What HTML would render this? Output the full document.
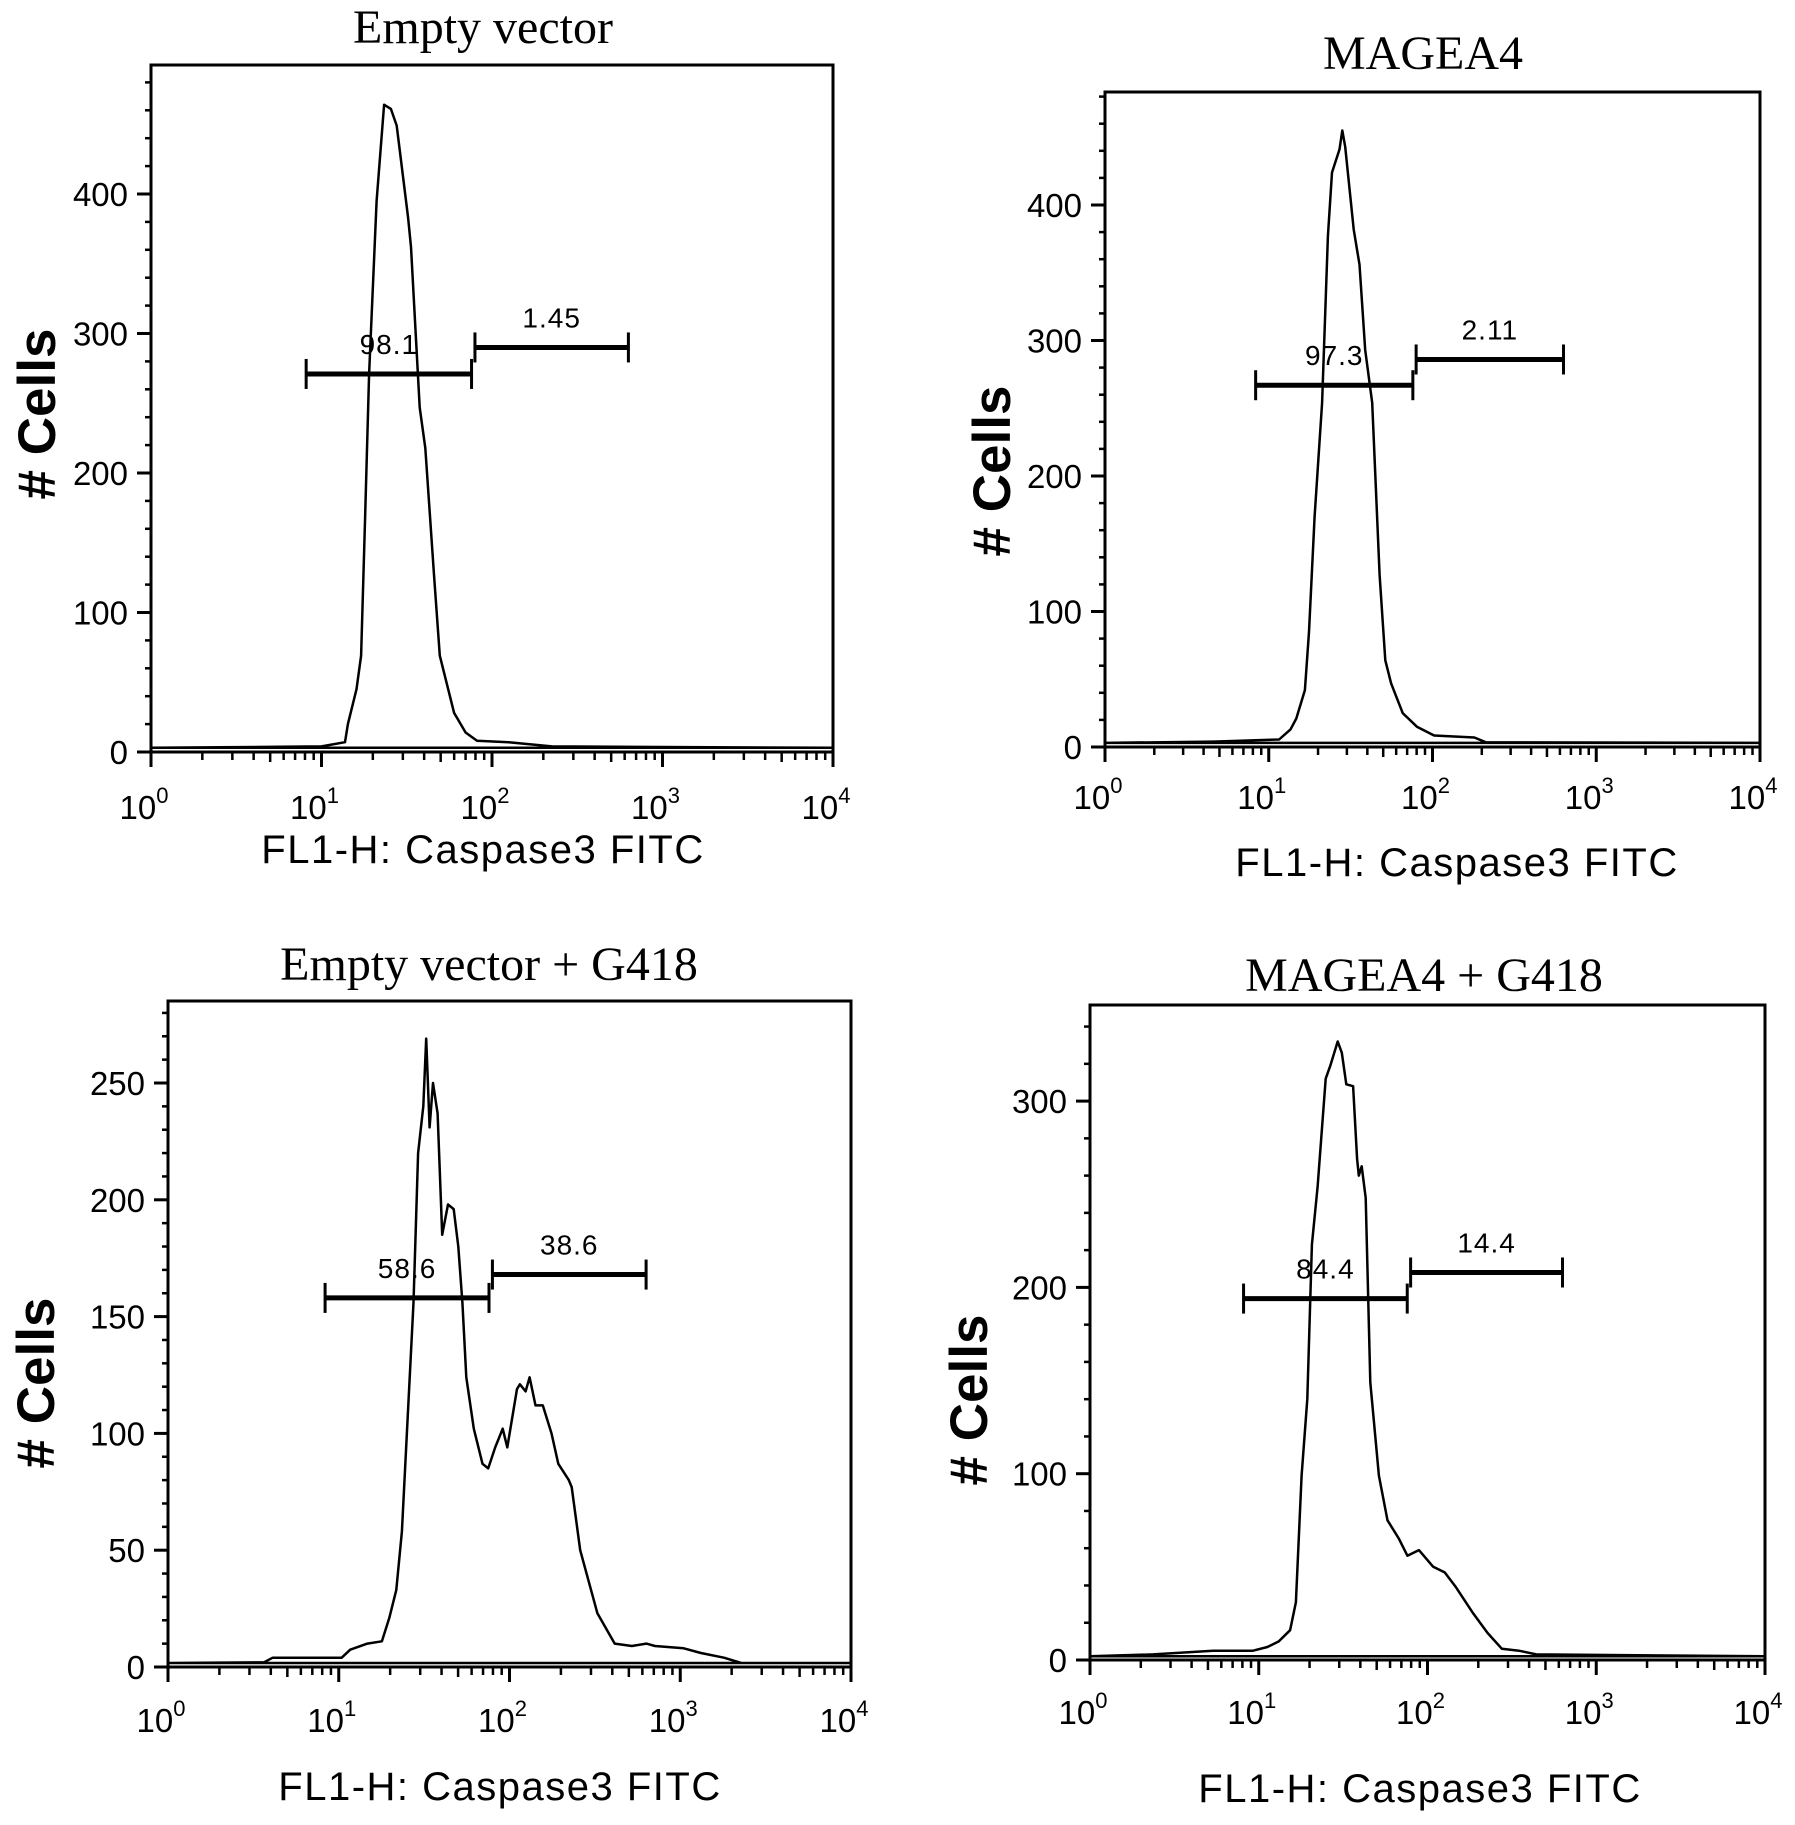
<!DOCTYPE html>
<html><head><meta charset="utf-8">
<style>
html,body{margin:0;padding:0;background:#fff;}
svg{display:block;}
text{font-family:"Liberation Sans",sans-serif;fill:#000;}
.title{font-family:"Liberation Serif",serif;font-size:48px;}
.tick{font-size:33px;}
.sup{font-size:22px;}
.xlab{font-size:40px;letter-spacing:1.5px;}
.ylab{font-size:53px;font-weight:bold;}
.gl{font-size:28px;letter-spacing:1px;}
</style></head>
<body>
<svg id="fig" xmlns="http://www.w3.org/2000/svg" width="1795" height="1825" viewBox="0 0 1795 1825"></svg>
<script>
// ---- data (log10 fluorescence, cell counts) ----
const p1Log=[0,1.0,1.138,1.155,1.205,1.232,1.256,1.279,1.323,1.367,1.407,1.441,1.508,1.525,1.576,1.609,1.66,1.694,1.778,1.845,1.912,2.098,2.35,4];
const p1Count=[3,4,7,20,45,69,168,271,395,464,461,449,383,362,247,218,127,69,28,14,8,7,4,3];
const p2Log=[0,0.66,1.063,1.133,1.168,1.221,1.246,1.28,1.326,1.361,1.386,1.432,1.449,1.467,1.519,1.554,1.589,1.632,1.677,1.712,1.747,1.818,1.905,2.01,2.256,2.326,4];
const p2Count=[3,4,5.5,13,21,42,85,170,254,377,424,441,455,443,382,356,293,254,127,64,47,25,15,8.5,7,3.5,3];
const p3Log=[0,0.562,0.613,1.017,1.067,1.168,1.253,1.296,1.337,1.37,1.404,1.438,1.465,1.495,1.512,1.532,1.552,1.579,1.606,1.64,1.673,1.7,1.724,1.747,1.791,1.842,1.875,1.916,1.96,1.987,2.044,2.061,2.094,2.118,2.152,2.195,2.246,2.286,2.347,2.364,2.414,2.515,2.616,2.717,2.801,2.852,3.02,3.121,3.256,3.357,4];
const p3Count=[1.7,2,4,4,7.4,10,11,21,33,58,107,156,220,240,269,231,250,237,185,198,196,180,156,124,102,87,85,94,102,94,119,121,118,124,112,112,100,87,80,77,50,23,10,9,10,9,8,6,4,1.7,1.7];
const p4Log=[0,0.373,0.559,0.729,0.966,1.051,1.119,1.186,1.22,1.254,1.288,1.315,1.349,1.397,1.424,1.468,1.492,1.519,1.559,1.583,1.593,1.61,1.634,1.661,1.712,1.763,1.831,1.881,1.949,2.034,2.102,2.169,2.271,2.356,2.441,2.542,2.644,4];
const p4Count=[2,3,4,5,5,7,10,16,31,99,140,223,254,312,319,332,326,309,308,269,260,265,248,149,99,75,65,56,59,50,47,39,25,14.5,6,5,3,2];
const titles=["Empty vector","MAGEA4","Empty vector + G418","MAGEA4 + G418"];
const gateLeftLabels=["98.1","97.3","58.6","84.4"];
const gateRightLabels=["1.45","2.11","38.6","14.4"];
const gateLeftLog=[[0.91,1.88],[0.92,1.88],[0.92,1.88],[0.91,1.88]];
const gateRightLog=[[1.90,2.80],[1.90,2.80],[1.90,2.80],[1.90,2.80]];
const gateLeftY=[271,267,158,194];
const gateRightY=[290,286,168,208];
const yMajor1=[0,100,200,300,400];
const yMajor3=[0,50,100,150,200,250];
const yMajor4=[0,100,200,300];
const xDecades=[0,1,2,3,4];

// ---- layout (pixels) ----
const layouts=[
 {id:"empty-vector",L:151,T:65,R:833,Z:752,perUnit:1.395,yMax:490,minor:20,major:yMajor1,logV:p1Log,cnt:p1Count,tx:483,ty:43,lx:37,ly:414,xl:483,xly:863,tly:819},
 {id:"magea4",L:1105,T:92,R:1760,Z:747,perUnit:1.355,yMax:480,minor:20,major:yMajor1,logV:p2Log,cnt:p2Count,tx:1423,ty:69,lx:992,ly:471,xl:1457,xly:876,tly:809},
 {id:"empty-vector-g418",L:168,T:1001,R:851,Z:1667,perUnit:2.336,yMax:280,minor:10,major:yMajor3,logV:p3Log,cnt:p3Count,tx:489,ty:980,lx:36,ly:1383,xl:500,xly:1800,tly:1732},
 {id:"magea4-g418",L:1090,T:1005,R:1765,Z:1660,perUnit:1.863,yMax:350,minor:20,major:yMajor4,logV:p4Log,cnt:p4Count,tx:1424,ty:991,lx:969,ly:1400,xl:1420,xly:1802,tly:1724}
];
const NS="http://www.w3.org/2000/svg";
const svg=document.getElementById("fig");
function mk(tag,attrs,parent){const e=document.createElementNS(NS,tag);for(const k in attrs)e.setAttribute(k,attrs[k]);(parent||svg).appendChild(e);return e;}

layouts.forEach((p,i)=>{
 const g=mk("g",{});
 
 
 const xs=v=>p.L+(p.R-p.L)*v/4;
 const ys=c=>p.Z-c*p.perUnit;
 const t=mk("text",{x:p.tx,y:p.ty,"text-anchor":"middle",class:"title"},g);t.textContent=titles[i];
 
 
 const fr=mk("rect",{x:p.L,y:p.T,width:p.R-p.L,height:p.Z-p.T,fill:"none",stroke:"#000","stroke-width":3},g);
 
 
 for(let v=0;v<=p.yMax;v+=p.minor){
  const isMaj=p.major.indexOf(v)>=0;
  const tk=mk("line",{x1:p.L-(isMaj?14:6),x2:p.L,y1:ys(v),y2:ys(v),stroke:"#000","stroke-width":isMaj?3:2.5},g);
  
  
 }
 p.major.forEach(v=>{
  const tl=mk("text",{x:p.L-23,y:ys(v)+12,"text-anchor":"end",class:"tick"},g);tl.textContent=v;
  
  
 });
 xDecades.forEach(d=>{
  const tk=mk("line",{x1:xs(d),x2:xs(d),y1:p.Z,y2:p.Z+15,stroke:"#000","stroke-width":3},g);
  
  
  const tl=mk("text",{x:xs(d)-7,y:p.tly,"text-anchor":"middle",class:"tick"},g);
  
  
  tl.appendChild(document.createTextNode("10"));
  const sp=mk("tspan",{class:"sup",dy:-16},tl);sp.textContent=d;
  if(d<4){for(let m=2;m<=9;m++){
   const lv=d+Math.log10(m);
   const mt=mk("line",{x1:xs(lv),x2:xs(lv),y1:p.Z,y2:p.Z+(m===5?10:8),stroke:"#000","stroke-width":2.5},g);
   
   
  }}
 });
 const xlab=mk("text",{x:p.xl,y:p.xly,"text-anchor":"middle",class:"xlab"},g);xlab.textContent="FL1-H: Caspase3 FITC";
 
 
 const ylab=mk("text",{x:0,y:0,"text-anchor":"middle",class:"ylab",transform:`translate(${p.lx+18},${p.ly}) rotate(-90)`},g);ylab.textContent="# Cells";
 
 
 let d="M"+p.logV.map((v,k)=>xs(v).toFixed(1)+","+ys(p.cnt[k]).toFixed(1)).join(" L")+" L"+xs(p.logV[0]).toFixed(1)+","+ys(p.cnt[0]).toFixed(1)+"Z";
 const h=mk("path",{d:d,fill:"none",stroke:"#000","stroke-width":2.5,"stroke-linejoin":"round"},g);
 
 
 [[gateLeftLog[i],gateLeftY[i],gateLeftLabels[i],'left'],[gateRightLog[i],gateRightY[i],gateRightLabels[i],'right']].forEach(gt=>{
  const [rng,yv,lab,side]=gt;
  const gg=mk("g",{},g);
  
  
  const y=ys(yv),x1=xs(rng[0]),x2=xs(rng[1]);
  mk("line",{x1:x1,x2:x2,y1:y,y2:y,stroke:"#000","stroke-width":5},gg);
  mk("line",{x1:x1,x2:x1,y1:y-15,y2:y+15,stroke:"#000","stroke-width":3},gg);
  mk("line",{x1:x2,x2:x2,y1:y-15,y2:y+15,stroke:"#000","stroke-width":3},gg);
  const gl=mk("text",{x:(x1+x2)/2,y:y-20,"text-anchor":"middle",class:"gl"},gg);gl.textContent=lab;
  
  
 });
});
</script>
</body></html>
